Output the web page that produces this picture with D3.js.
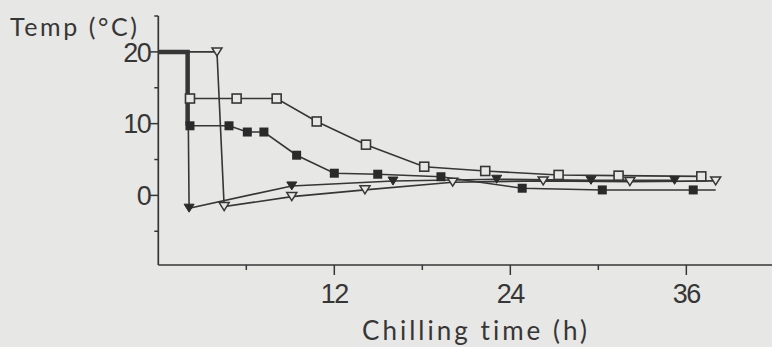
<!DOCTYPE html>
<html>
<head>
<meta charset="utf-8">
<script src="https://cdnjs.cloudflare.com/ajax/libs/d3/7.8.5/d3.min.js"></script>
<style>
  body { margin: 0; background: #e7e7e5; }
  svg { display: block; }
  text { font-variant-ligatures: none; }
</style>
</head>
<body>
<div id="chart"></div>
<script>
// chilling curves (h, degC)
const openSqX = [2.16, 5.34, 8.07, 10.8, 14.16, 18.13, 22.29, 27.29, 31.38, 37.02];
const openSqY = [13.5, 13.5, 13.5, 10.3, 7.07, 4.0, 3.4, 2.85, 2.75, 2.65];

const fillSqX = [2.16, 4.82, 6.07, 7.2, 9.43, 12.0, 14.96, 19.27, 24.81, 30.27, 36.47];
const fillSqY = [9.7, 9.7, 8.83, 8.83, 5.6, 3.09, 2.95, 2.6, 1.0, 0.76, 0.76];
const fillSqTail = [38.0, 0.76];

const fillTriStart = [2.0, 20];
const fillTriX = [2.1, 9.1, 16.0, 23.07, 29.5, 35.2];
const fillTriY = [-1.78, 1.32, 2.0, 2.25, 2.1, 2.1];

const openTriStart = [0, 20];
const openTriX = [4.0, 4.49, 9.1, 14.09, 20.07, 26.24, 32.15, 38.0];
const openTriY = [20, -1.56, -0.17, 0.77, 1.84, 2.02, 1.92, 2.02];

// heavy common segment: room temp then into the chiller
const heavyX = [0, 2.0, 2.0];
const heavyY = [20, 20, 9.7];

const yMajor = [20, 10, 0];
const yMinor = [25, 15, 5, -5];
const xMajor = [12, 24, 36];
const xMinor = [6, 18, 30];

const width = 772, height = 347;
const ink = "#363636";
const bg = "#e7e7e5";

const svg = d3.select("#chart").append("svg")
  .attr("width", width)
  .attr("height", height);

svg.append("rect").attr("width", width).attr("height", height).attr("fill", bg);

const x = d3.scaleLinear().domain([0, 41.84]).range([158.3, 772]);
const y = d3.scaleLinear().domain([-9.7, 25]).range([265, 16]);

// axes
const gy = svg.append("g").attr("transform", "translate(" + x(0) + ",0)");
gy.append("line").attr("x1", 0).attr("x2", 0).attr("y1", y(25)).attr("y2", y(-9.7))
  .attr("stroke", ink).attr("stroke-width", 1.7);
gy.selectAll(".ymaj").data(yMajor).enter().append("line")
  .attr("x1", -8).attr("x2", 0).attr("y1", d => y(d)).attr("y2", d => y(d))
  .attr("stroke", ink).attr("stroke-width", 1.5);
gy.selectAll(".ymin").data(yMinor).enter().append("line")
  .attr("x1", -4).attr("x2", 0).attr("y1", d => y(d)).attr("y2", d => y(d))
  .attr("stroke", ink).attr("stroke-width", 1.5);
gy.selectAll(".ylab").data(yMajor).enter().append("text")
  .attr("x", -8).attr("y", d => y(d)).attr("dy", "0.36em")
  .attr("text-anchor", "end")
  .attr("font-family", "Liberation Sans, Arial, sans-serif")
  .attr("font-size", 27).attr("letter-spacing", -1.5).attr("fill", ink)
  .text(d => d);

const gx = svg.append("g").attr("transform", "translate(0," + y(-9.7) + ")");
gx.append("line").attr("x1", x(0)).attr("x2", width).attr("y1", 0).attr("y2", 0)
  .attr("stroke", ink).attr("stroke-width", 1.7);
gx.selectAll(".xmaj").data(xMajor).enter().append("line")
  .attr("x1", d => x(d)).attr("x2", d => x(d)).attr("y1", 0).attr("y2", 10)
  .attr("stroke", ink).attr("stroke-width", 1.5);
gx.selectAll(".xmin").data(xMinor).enter().append("line")
  .attr("x1", d => x(d)).attr("x2", d => x(d)).attr("y1", 0).attr("y2", 5)
  .attr("stroke", ink).attr("stroke-width", 1.5);
gx.selectAll(".xlab").data(xMajor).enter().append("text")
  .attr("x", d => x(d)).attr("y", 38)
  .attr("text-anchor", "middle")
  .attr("font-family", "Liberation Sans, Arial, sans-serif")
  .attr("font-size", 27).attr("letter-spacing", -1.5).attr("fill", ink)
  .text(d => d);

svg.append("text")
  .attr("x", 10).attr("y", 36)
  .attr("font-family", "Lato, sans-serif").attr("font-size", 25)
  .attr("textLength", 127).attr("lengthAdjust", "spacing")
  .attr("fill", ink)
  .text("Temp (°C)");

svg.append("text")
  .attr("x", 362).attr("y", 340)
  .attr("font-family", "Lato, sans-serif").attr("font-size", 26)
  .attr("textLength", 225).attr("lengthAdjust", "spacing")
  .attr("fill", ink)
  .text("Chilling time (h)");

// lines
const line = d3.line().x(d => x(d[0])).y(d => y(d[1]));
const zip = (xs, ys) => xs.map((v, i) => [v, ys[i]]);

const openSq = zip(openSqX, openSqY);
const fillSq = zip(fillSqX, fillSqY);
const fillTri = zip(fillTriX, fillTriY);
const openTri = zip(openTriX, openTriY);

const series = [
  [openTriStart].concat(openTri),
  [fillTriStart].concat(fillTri),
  openSq,
  fillSq.concat([fillSqTail])
];

svg.selectAll(".series").data(series).enter().append("path")
  .attr("d", line)
  .attr("fill", "none")
  .attr("stroke", ink)
  .attr("stroke-width", 1.6);

svg.append("path")
  .attr("d", line(zip(heavyX, heavyY)))
  .attr("fill", "none")
  .attr("stroke", ink)
  .attr("stroke-width", 4.5)
  .attr("stroke-linejoin", "miter");

// markers
const tri = "M-5,-4L5,-4L0,4Z";

svg.selectAll(".otri").data(openTri).enter().append("path")
  .attr("d", tri)
  .attr("transform", d => "translate(" + x(d[0]) + "," + y(d[1]) + ")")
  .attr("fill", bg).attr("stroke", ink).attr("stroke-width", 1.5);

svg.selectAll(".ftri").data(fillTri).enter().append("path")
  .attr("d", tri)
  .attr("transform", d => "translate(" + x(d[0]) + "," + y(d[1]) + ")")
  .attr("fill", "#2a2a2a").attr("stroke", "#2a2a2a").attr("stroke-width", 1);

svg.selectAll(".osq").data(openSq).enter().append("rect")
  .attr("x", d => x(d[0]) - 4.5).attr("y", d => y(d[1]) - 4.5)
  .attr("width", 9).attr("height", 9)
  .attr("fill", bg).attr("stroke", ink).attr("stroke-width", 1.6);

svg.selectAll(".fsq").data(fillSq).enter().append("rect")
  .attr("x", d => x(d[0]) - 4.5).attr("y", d => y(d[1]) - 4.5)
  .attr("width", 9).attr("height", 9)
  .attr("fill", "#2a2a2a");
</script>
</body>
</html>
